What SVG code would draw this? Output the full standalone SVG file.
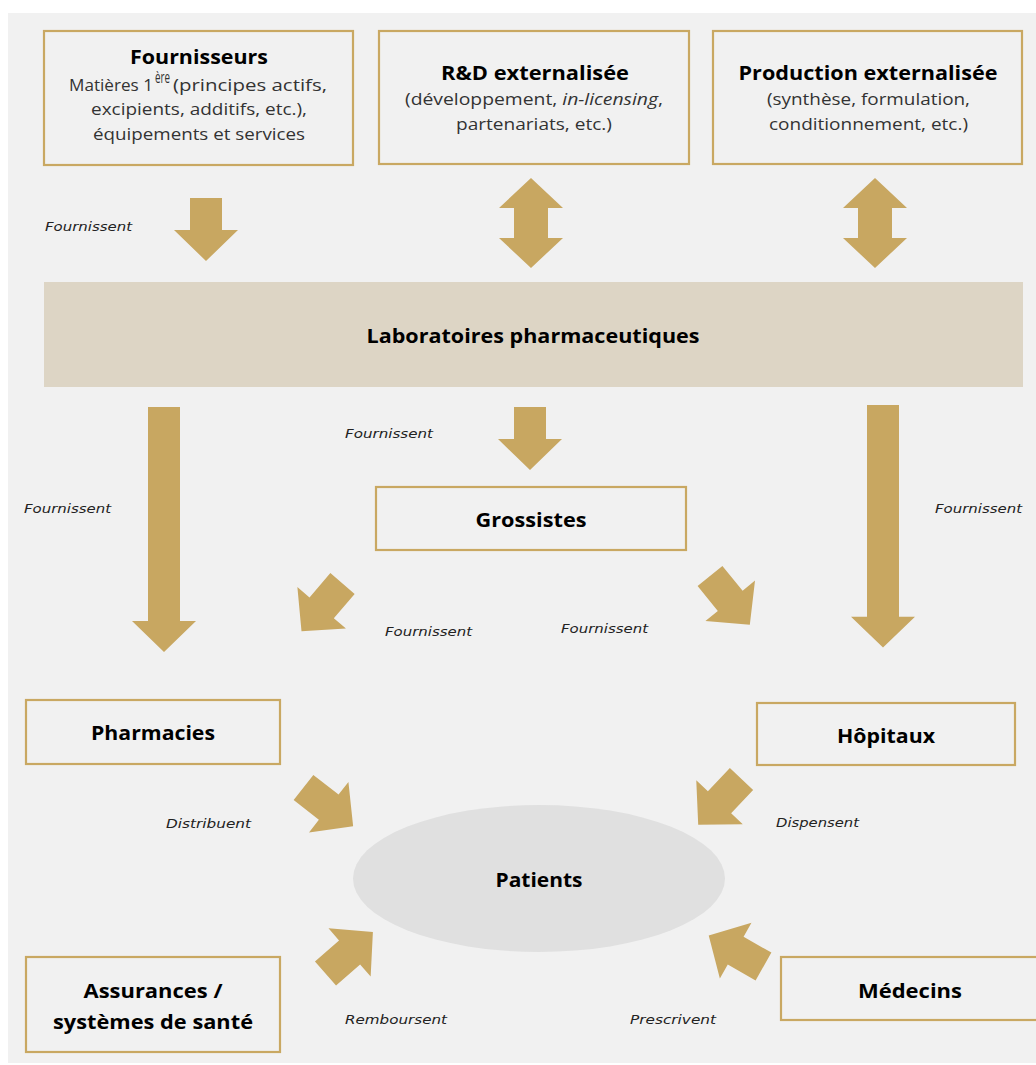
<svg xmlns="http://www.w3.org/2000/svg" xmlns:xlink="http://www.w3.org/1999/xlink" width="1036" height="1065" viewBox="0 0 1036 1065">
<style>
.box{fill:#f1f1f1;stroke:#c9a862;stroke-width:2.2}
.arr{fill:#c8a761}
.t{font-family:"Open Sans","Liberation Sans",sans-serif;font-weight:700;font-size:19px;fill:#000;text-anchor:middle}
.s{font-family:"Open Sans","Liberation Sans",sans-serif;font-size:16px;fill:#333}
.l{font-family:"DejaVu Sans","Liberation Sans",sans-serif;font-style:italic;font-size:13px;fill:#222}
</style>
<defs>
<path id="arrS" d="M-16,0 H16 V32 H32 L0,63 L-32,32 H-16 Z"/>
<path id="arrL" d="M-16,0 H16 V214 H32 L0,245 L-32,214 H-16 Z"/>
<path id="arrD" d="M0,0 L32,30 H17 V60 H32 L0,90 L-32,60 H-17 V30 H-32 Z"/>
</defs>
<rect x="0" y="0" width="1036" height="1065" fill="#ffffff"/>
<rect x="8" y="13" width="1028" height="1050" fill="#f1f1f1"/>

<g id="connectors" class="arr">
<use xlink:href="#arrS" transform="translate(206,198)"/>
<use xlink:href="#arrD" transform="translate(531,178)"/>
<use xlink:href="#arrD" transform="translate(875,178)"/>
<use xlink:href="#arrL" transform="translate(164,407)"/>
<use xlink:href="#arrS" transform="translate(530,407)"/>
<use xlink:href="#arrL" transform="translate(883,405) scale(1,0.99)"/>
<use xlink:href="#arrS" transform="translate(342.5,583.5) rotate(40.6)"/>
<use xlink:href="#arrS" transform="translate(710,576) rotate(-39.2)"/>
<use xlink:href="#arrS" transform="translate(303.5,787.5) rotate(-52)"/>
<use xlink:href="#arrS" transform="translate(741.5,779) rotate(43.4)"/>
<use xlink:href="#arrS" transform="translate(325.5,973.5) rotate(-131.2)"/>
<use xlink:href="#arrS" transform="translate(763.5,966.5) rotate(119.6)"/>
</g>

<g id="labels">
<text class="l" x="45" y="231" textLength="87" lengthAdjust="spacingAndGlyphs">Fournissent</text>
<text class="l" x="345" y="438" textLength="88" lengthAdjust="spacingAndGlyphs">Fournissent</text>
<text class="l" x="24" y="513" textLength="87" lengthAdjust="spacingAndGlyphs">Fournissent</text>
<text class="l" x="935" y="513" textLength="87" lengthAdjust="spacingAndGlyphs">Fournissent</text>
<text class="l" x="385" y="636" textLength="87" lengthAdjust="spacingAndGlyphs">Fournissent</text>
<text class="l" x="561" y="633" textLength="87" lengthAdjust="spacingAndGlyphs">Fournissent</text>
<text class="l" x="166" y="828" textLength="85" lengthAdjust="spacingAndGlyphs">Distribuent</text>
<text class="l" x="776" y="827" textLength="83" lengthAdjust="spacingAndGlyphs">Dispensent</text>
<text class="l" x="345" y="1024" textLength="102" lengthAdjust="spacingAndGlyphs">Remboursent</text>
<text class="l" x="630" y="1024" textLength="86" lengthAdjust="spacingAndGlyphs">Prescrivent</text>
</g>

<g id="fournisseurs">
<rect class="box" x="44" y="31" width="309" height="134"/>
<text class="t" x="199" y="64" textLength="138" lengthAdjust="spacingAndGlyphs">Fournisseurs</text>
<text class="s" x="69" y="91" textLength="84" lengthAdjust="spacingAndGlyphs">Matières 1</text>
<text class="s" x="155" y="83" font-size="11" textLength="15" lengthAdjust="spacingAndGlyphs">ère</text>
<text class="s" x="173" y="91" textLength="154" lengthAdjust="spacingAndGlyphs">(principes actifs,</text>
<text class="s" x="91" y="115" textLength="216" lengthAdjust="spacingAndGlyphs">excipients, additifs, etc.),</text>
<text class="s" x="93" y="140" textLength="212" lengthAdjust="spacingAndGlyphs">équipements et services</text>
</g>

<g id="rd">
<rect class="box" x="379" y="31" width="310" height="133"/>
<text class="t" x="535" y="80" textLength="188" lengthAdjust="spacingAndGlyphs">R&amp;D externalisée</text>
<text class="s" x="405" y="105" textLength="258" lengthAdjust="spacingAndGlyphs">(développement, <tspan font-style="italic">in-licensing</tspan>,</text>
<text class="s" x="456" y="130" textLength="156" lengthAdjust="spacingAndGlyphs">partenariats, etc.)</text>
</g>

<g id="production">
<rect class="box" x="713" y="31" width="309" height="133"/>
<text class="t" x="868" y="80" textLength="259" lengthAdjust="spacingAndGlyphs">Production externalisée</text>
<text class="s" x="767" y="105" textLength="203" lengthAdjust="spacingAndGlyphs">(synthèse, formulation,</text>
<text class="s" x="769" y="130" textLength="199" lengthAdjust="spacingAndGlyphs">conditionnement, etc.)</text>
</g>

<g id="laboratoires">
<rect x="44" y="282" width="979" height="105" fill="#ddd5c5"/>
<text class="t" x="533" y="343" textLength="333" lengthAdjust="spacingAndGlyphs">Laboratoires pharmaceutiques</text>
</g>

<g id="grossistes">
<rect class="box" x="376" y="487" width="310" height="63"/>
<text class="t" x="531" y="527" textLength="111" lengthAdjust="spacingAndGlyphs">Grossistes</text>
</g>

<g id="pharmacies">
<rect class="box" x="26" y="700" width="254" height="64"/>
<text class="t" x="153" y="740" textLength="124" lengthAdjust="spacingAndGlyphs">Pharmacies</text>
</g>

<g id="hopitaux">
<rect class="box" x="757" y="703" width="258" height="62"/>
<text class="t" x="886" y="743" textLength="98" lengthAdjust="spacingAndGlyphs">Hôpitaux</text>
</g>

<g id="patients">
<ellipse cx="539" cy="878.5" rx="186" ry="73.5" fill="#e0e0e0"/>
<text class="t" x="539" y="887" textLength="87" lengthAdjust="spacingAndGlyphs">Patients</text>
</g>

<g id="assurances">
<rect class="box" x="26" y="957" width="254" height="95"/>
<text class="t" x="153" y="998" textLength="139" lengthAdjust="spacingAndGlyphs">Assurances /</text>
<text class="t" x="153" y="1029" textLength="200" lengthAdjust="spacingAndGlyphs">systèmes de santé</text>
</g>

<g id="medecins">
<rect class="box" x="781" y="957" width="260" height="63"/>
<text class="t" x="910" y="998" textLength="104" lengthAdjust="spacingAndGlyphs">Médecins</text>
</g>
</svg>
